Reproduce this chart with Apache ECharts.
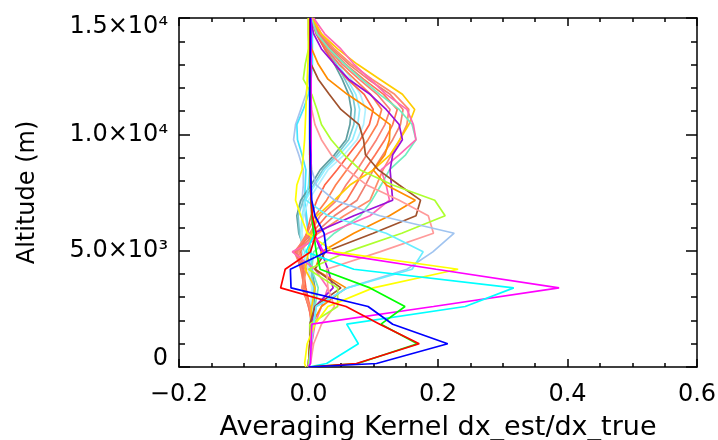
<!DOCTYPE html>
<html>
<head>
<meta charset="utf-8">
<script src="https://cdn.jsdelivr.net/npm/echarts@6/dist/echarts.min.js"></script>
<style>
html,body{margin:0;padding:0;background:#fff;}
#chart{width:718px;height:440px;}
</style>
</head>
<body>
<div id="chart"></div>
<script>
// Altitude levels (m), bottom to top
const altitude = [0,150,1000,1840,2600,3400,4200,4950,5750,6500,7170,7820,8470,9120,9770,10420,11070,11720,12370,13020,13670,14320,15000];

// Averaging kernel rows (dx_est/dx_true) at each altitude level
const kBlue       = [0.000,0.105,0.215,0.130,0.092,-0.027,-0.028,0.028,0.024,0.010,0.005,0.004,0.003,0.003,0.002,0.002,0.002,0.002,0.002,0.002,0.003,0.003,0.003];
const kRed        = [0.000,0.074,0.171,0.110,0.058,-0.043,-0.036,0.003,0.012,0.006,0.004,0.003,0.003,0.002,0.002,0.002,0.002,0.002,0.002,0.002,0.002,0.002,0.002];
const kGreen      = [0.000,0.076,0.168,0.112,0.149,0.095,0.018,0.012,0.008,0.005,0.004,0.003,0.003,0.002,0.002,0.002,0.002,0.002,0.002,0.002,0.002,0.002,0.002];
const kCyan       = [0.000,0.028,0.077,0.059,0.242,0.317,0.070,-0.004,0.010,0.006,0.004,0.003,0.002,0.002,0.002,0.002,0.002,0.002,0.002,0.002,0.002,0.002,0.002];
const kMagenta    = [0.000,0.003,0.004,0.005,0.193,0.387,0.197,0.023,0.008,0.005,0.004,0.004,0.004,0.004,0.004,0.004,0.004,0.004,0.004,0.004,0.004,0.004,0.004];
const kYellow     = [-0.004,-0.006,-0.002,0.010,0.030,0.100,0.231,0.040,-0.002,-0.012,-0.020,-0.018,-0.010,-0.008,-0.006,-0.005,-0.004,-0.003,-0.002,-0.001,0.000,0.000,0.000];
const kCyan2      = [0.000,0.002,0.004,0.008,0.012,0.060,0.160,0.177,0.120,0.030,-0.004,0.000,0.002,0.002,0.002,0.002,0.002,0.002,0.002,0.002,0.002,0.002,0.002];
const kLightBlue  = [0.000,0.002,0.004,0.008,0.012,0.060,0.152,0.192,0.225,0.110,0.040,0.012,0.005,0.003,0.003,0.003,0.003,0.003,0.003,0.003,0.003,0.003,0.003];
const kGreenYel   = [0.000,0.000,0.004,0.002,0.045,0.045,0.000,0.060,0.144,0.211,0.195,0.130,0.080,0.055,0.035,0.020,0.013,0.005,-0.008,-0.005,0.000,0.000,0.000];
const kLightPink  = [0.000,0.003,0.008,0.020,0.040,0.030,0.028,0.110,0.193,0.185,0.140,0.090,0.060,0.035,0.020,0.010,0.005,0.003,0.002,0.002,0.002,0.002,0.002];
const kBrown      = [0.000,0.000,0.002,0.002,0.010,0.050,0.010,0.026,0.100,0.166,0.173,0.140,0.108,0.088,0.085,0.078,0.050,0.032,0.015,0.004,0.001,0.000,0.000];
const kOrange     = [0.000,0.000,0.002,0.005,0.020,0.058,0.010,0.020,0.070,0.125,0.165,0.120,0.100,0.118,0.125,0.126,0.095,0.060,0.030,0.015,0.005,0.003,0.002];
const kPurple     = [0.000,0.000,0.002,0.004,0.010,0.038,0.030,0.020,0.008,0.070,0.130,0.128,0.126,0.130,0.145,0.140,0.120,0.095,0.062,0.040,0.020,0.008,0.003];
const kPink       = [0.000,0.002,0.005,0.010,0.020,0.030,0.010,-0.025,0.030,0.095,0.125,0.120,0.112,0.140,0.166,0.162,0.152,0.120,0.095,0.070,0.050,0.025,0.008];
const kAqua       = [0.000,0.002,0.003,0.006,0.010,0.015,0.005,0.008,0.040,0.080,0.098,0.112,0.125,0.150,0.166,0.160,0.140,0.110,0.082,0.056,0.032,0.013,0.004];
const kGold       = [0.000,0.001,0.002,0.003,0.005,0.010,-0.005,0.000,0.005,0.013,0.040,0.064,0.100,0.126,0.141,0.155,0.164,0.145,0.110,0.075,0.045,0.020,0.005];
const kWarm1      = [0.000,0.002,0.003,0.004,0.002,-0.004,-0.008,-0.012,-0.003,0.004,0.013,0.025,0.044,0.062,0.080,0.094,0.100,0.086,0.060,0.040,0.025,0.012,0.004];
const kWarm2      = [0.000,0.002,0.003,0.005,0.001,-0.006,-0.012,-0.020,-0.002,0.010,0.028,0.042,0.059,0.076,0.092,0.106,0.113,0.096,0.071,0.047,0.028,0.014,0.005];
const kWarm3      = [0.000,0.001,0.004,0.006,0.000,-0.008,-0.010,-0.022,0.002,0.018,0.044,0.058,0.075,0.090,0.105,0.118,0.126,0.106,0.078,0.052,0.031,0.015,0.005];
const kWarm4      = [0.000,0.001,0.004,0.007,0.000,-0.009,-0.008,-0.020,0.005,0.028,0.059,0.073,0.087,0.103,0.118,0.130,0.137,0.116,0.085,0.057,0.034,0.017,0.006];
const kWarm5      = [0.000,0.001,0.005,0.008,0.001,-0.010,-0.005,-0.018,0.010,0.040,0.075,0.088,0.100,0.115,0.130,0.142,0.146,0.126,0.092,0.062,0.037,0.018,0.006];
const kWarm6      = [0.000,0.001,0.005,0.008,0.002,-0.010,-0.003,-0.015,0.015,0.055,0.095,0.105,0.115,0.128,0.141,0.152,0.155,0.133,0.098,0.066,0.040,0.020,0.007];
const kTeal1      = [0.000,0.002,0.004,0.006,0.008,0.010,0.005,-0.005,-0.015,-0.018,-0.012,0.004,0.018,0.040,0.058,0.064,0.066,0.062,0.052,0.040,0.025,0.012,0.004];
const kTeal2      = [0.000,0.002,0.004,0.005,0.007,0.008,0.004,-0.006,-0.014,-0.016,-0.008,0.008,0.022,0.044,0.062,0.070,0.072,0.068,0.056,0.043,0.028,0.014,0.004];
const kTeal3      = [0.000,0.001,0.003,0.004,0.006,0.006,0.000,-0.010,-0.012,-0.010,-0.005,0.010,0.025,0.048,0.068,0.076,0.079,0.073,0.060,0.046,0.030,0.015,0.005];
const kTeal4      = [0.000,0.001,0.003,0.004,0.005,0.005,0.000,-0.005,-0.010,-0.008,0.000,0.015,0.030,0.055,0.075,0.085,0.088,0.080,0.066,0.050,0.033,0.017,0.006];
const kTop1       = [0.000,0.000,0.002,0.004,0.006,0.008,0.006,0.004,0.000,-0.005,-0.010,-0.008,-0.008,-0.015,-0.023,-0.020,-0.012,-0.004,0.000,0.003,0.005,0.006,0.005];
const kTop2       = [0.000,0.000,0.002,0.003,0.004,0.006,0.005,0.003,0.000,-0.003,-0.006,-0.005,-0.004,-0.010,-0.017,-0.018,-0.008,0.000,0.004,0.006,0.006,0.006,0.005];

// Tick labels
const xTickLabels = ['\u22120.2','0.0','0.2','0.4','0.6'];
const yTickLabels = ['0','5.0\u00d710\u00b3','1.0\u00d710\u2074','1.5\u00d710\u2074'];

const xTitle = 'Averaging Kernel dx_est/dx_true';
const yTitle = 'Altitude (m)';

// Line styling (kept separate from data)
const lines = [
  [kTop1,'#a8c4ee'],[kTop2,'#44e4ff'],
  [kTeal1,'#5f9ea0'],[kTeal2,'#78c8d0'],[kTeal3,'#90eeff'],[kTeal4,'#b0f0ff'],
  [kWarm1,'#ff6347'],[kWarm2,'#ff7f50'],[kWarm3,'#fa8072'],[kWarm4,'#ff7256'],[kWarm5,'#f08070'],[kWarm6,'#ff8c69'],
  [kGold,'#ffcc00'],[kAqua,'#70eec0'],[kPink,'#ff69b4'],[kPurple,'#9a10d8'],[kOrange,'#ff8c00'],[kBrown,'#a0522d'],
  [kLightPink,'#ff9a9a'],[kGreenYel,'#adff2f'],[kLightBlue,'#a0c4f0'],[kCyan2,'#66eeff'],
  [kYellow,'#ffff00'],[kMagenta,'#ff00ff'],[kCyan,'#00ffff'],[kGreen,'#00ff00'],[kRed,'#ff0000'],[kBlue,'#0000ff']
];

const FONT = 'DejaVu Sans';
const axisLineStyle = {color:'#000', width:1.5};

const series = lines.map(([vals,color],i) => ({
  type:'line',
  xAxisIndex:0, yAxisIndex:0,
  data: vals.map((v,j) => [v, altitude[j]]),
  showSymbol:false,
  symbol:'none',
  lineStyle:{color:color, width:1.7},
  itemStyle:{color:color},
  animation:false,
  silent:true,
  z: 2 + i*0.01
}));

const chart = echarts.init(document.getElementById('chart'), null, {renderer:'canvas'});
chart.setOption({
  backgroundColor:'#fff',
  animation:false,
  grid:{left:179, top:18, width:518, height:349, containLabel:false, outerBoundsMode:'none'},
  xAxis:[
    {
      type:'value', position:'bottom', min:-0.2, max:0.6, interval:0.2,
      axisLine:{show:true, onZero:false, lineStyle:axisLineStyle},
      axisTick:{show:true, inside:true, length:8, lineStyle:axisLineStyle},
      minorTick:{show:true, splitNumber:4, length:4, lineStyle:axisLineStyle},
      splitLine:{show:false}, minorSplitLine:{show:false},
      axisLabel:{
        show:true, margin:16, color:'#000', fontSize:24, fontFamily:FONT,
        formatter:(v)=> xTickLabels[Math.round((v+0.2)/0.2)]
      },
      name:xTitle, nameLocation:'middle', nameGap:47,
      nameTextStyle:{color:'#000', fontSize:27, fontFamily:FONT}
    },
    {
      type:'value', position:'top', min:-0.2, max:0.6, interval:0.2,
      axisLine:{show:true, onZero:false, lineStyle:axisLineStyle},
      axisTick:{show:true, inside:true, length:8, lineStyle:axisLineStyle},
      minorTick:{show:true, splitNumber:4, length:4, lineStyle:axisLineStyle},
      splitLine:{show:false}, minorSplitLine:{show:false},
      axisLabel:{show:false}
    }
  ],
  yAxis:[
    {
      type:'value', position:'left', min:0, max:15000, interval:5000,
      axisLine:{show:true, onZero:false, lineStyle:axisLineStyle},
      axisTick:{show:true, inside:true, length:11, lineStyle:axisLineStyle},
      minorTick:{show:true, splitNumber:5, length:6, lineStyle:axisLineStyle},
      splitLine:{show:false}, minorSplitLine:{show:false},
      axisLabel:{
        show:true, margin:11, color:'#000', fontSize:24, fontFamily:FONT,
        formatter:(v)=>{
          const i = Math.round(v/5000);
          const t = yTickLabels[i];
          if (i === 0) return '{bot|' + t + '}';
          if (i === yTickLabels.length-1) return '{top|' + t + '}';
          return '{mid|' + t + '}';
        },
        rich:{
          top:{fontSize:24, fontFamily:FONT, color:'#000', padding:[17,0,0,0]},
          bot:{fontSize:24, fontFamily:FONT, color:'#000', padding:[0,0,17,0]},
          mid:{fontSize:24, fontFamily:FONT, color:'#000'}
        }
      },
      name:yTitle, nameLocation:'middle', nameGap:139, nameRotate:90,
      nameTextStyle:{color:'#000', fontSize:24, fontFamily:FONT}
    },
    {
      type:'value', position:'right', min:0, max:15000, interval:5000,
      axisLine:{show:true, onZero:false, lineStyle:axisLineStyle},
      axisTick:{show:true, inside:true, length:11, lineStyle:axisLineStyle},
      minorTick:{show:true, splitNumber:5, length:6, lineStyle:axisLineStyle},
      splitLine:{show:false}, minorSplitLine:{show:false},
      axisLabel:{show:false}
    }
  ],
  series: series
});
</script>
</body>
</html>
